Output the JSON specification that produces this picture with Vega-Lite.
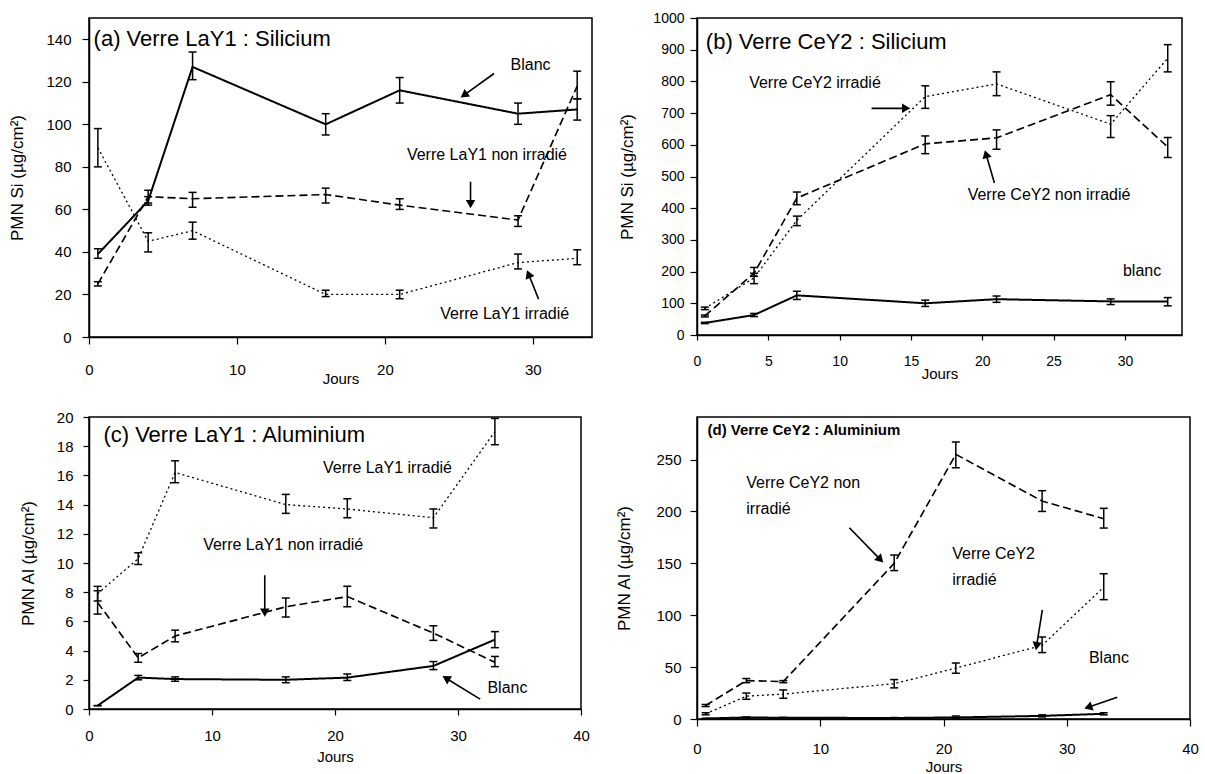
{
  "$schema": "https://vega.github.io/schema/vega-lite/v6.json",
  "background": "white",
  "padding": {"left": 7, "top": 10, "right": 2, "bottom": 2},
  "config": {
    "font": "Liberation Sans",
    "view": {"stroke": "black", "strokeWidth": 1.5},
    "axis": {"grid": false, "domainColor": "black", "domainWidth": 1.5, "tickColor": "black", "tickWidth": 1.2, "labelColor": "black", "titleColor": "black", "labelFont": "Liberation Sans", "titleFont": "Liberation Sans", "titleFontWeight": "normal", "labelFontSize": 15, "titleFontSize": 15, "labelFlush": false, "labelOverlap": false}
  },
  "datasets": {
    "a": [
      {"s": "Blanc", "x": 0.6, "y": 39, "lo": 37, "hi": 41.5},
      {"s": "Blanc", "x": 4, "y": 64, "lo": 62, "hi": 66},
      {"s": "Blanc", "x": 7, "y": 127, "lo": 121, "hi": 134},
      {"s": "Blanc", "x": 16, "y": 100, "lo": 95, "hi": 105},
      {"s": "Blanc", "x": 21, "y": 116, "lo": 110, "hi": 122},
      {"s": "Blanc", "x": 29, "y": 105, "lo": 100, "hi": 110},
      {"s": "Blanc", "x": 33, "y": 107, "lo": 102, "hi": 112},
      {"s": "Non irradié", "x": 0.6, "y": 25, "lo": 24, "hi": 26},
      {"s": "Non irradié", "x": 4, "y": 66, "lo": 63, "hi": 69},
      {"s": "Non irradié", "x": 7, "y": 65, "lo": 61, "hi": 68},
      {"s": "Non irradié", "x": 16, "y": 67, "lo": 63, "hi": 70},
      {"s": "Non irradié", "x": 21, "y": 62, "lo": 60, "hi": 65},
      {"s": "Non irradié", "x": 29, "y": 55, "lo": 52, "hi": 57},
      {"s": "Non irradié", "x": 33, "y": 118, "lo": 112, "hi": 125},
      {"s": "Irradié", "x": 0.6, "y": 89, "lo": 80, "hi": 98},
      {"s": "Irradié", "x": 4, "y": 45, "lo": 40, "hi": 49},
      {"s": "Irradié", "x": 7, "y": 50, "lo": 46, "hi": 54},
      {"s": "Irradié", "x": 16, "y": 20, "lo": 19, "hi": 22},
      {"s": "Irradié", "x": 21, "y": 20, "lo": 18, "hi": 22},
      {"s": "Irradié", "x": 29, "y": 35, "lo": 32, "hi": 39},
      {"s": "Irradié", "x": 33, "y": 37, "lo": 34, "hi": 41}
    ],
    "b": [
      {"s": "Blanc", "x": 0.55, "y": 38, "lo": 36, "hi": 40},
      {"s": "Blanc", "x": 4, "y": 63, "lo": 58, "hi": 68},
      {"s": "Blanc", "x": 7, "y": 125, "lo": 112, "hi": 138},
      {"s": "Blanc", "x": 16, "y": 100, "lo": 90, "hi": 110},
      {"s": "Blanc", "x": 21, "y": 113, "lo": 103, "hi": 123},
      {"s": "Blanc", "x": 29, "y": 106, "lo": 96, "hi": 114},
      {"s": "Blanc", "x": 33, "y": 106, "lo": 92, "hi": 118},
      {"s": "Non irradié", "x": 0.55, "y": 60, "lo": 57, "hi": 63},
      {"s": "Non irradié", "x": 4, "y": 195, "lo": 185, "hi": 213},
      {"s": "Non irradié", "x": 7, "y": 432, "lo": 411, "hi": 451},
      {"s": "Non irradié", "x": 16, "y": 603, "lo": 572, "hi": 628},
      {"s": "Non irradié", "x": 21, "y": 622, "lo": 586, "hi": 647},
      {"s": "Non irradié", "x": 29, "y": 758, "lo": 725, "hi": 799},
      {"s": "Non irradié", "x": 33, "y": 593, "lo": 560, "hi": 623},
      {"s": "Irradié", "x": 0.55, "y": 84, "lo": 80, "hi": 88},
      {"s": "Irradié", "x": 4, "y": 180, "lo": 162, "hi": 195},
      {"s": "Irradié", "x": 7, "y": 362, "lo": 345, "hi": 375},
      {"s": "Irradié", "x": 16, "y": 752, "lo": 715, "hi": 786},
      {"s": "Irradié", "x": 21, "y": 792, "lo": 755, "hi": 830},
      {"s": "Irradié", "x": 29, "y": 665, "lo": 623, "hi": 692},
      {"s": "Irradié", "x": 33, "y": 873, "lo": 830, "hi": 916}
    ],
    "c": [
      {"s": "Blanc", "x": 0.7, "y": 0.23, "lo": 0.23, "hi": 0.23},
      {"s": "Blanc", "x": 4, "y": 2.15, "lo": 2.0, "hi": 2.3},
      {"s": "Blanc", "x": 7, "y": 2.05, "lo": 1.9, "hi": 2.2},
      {"s": "Blanc", "x": 16, "y": 2.0, "lo": 1.8, "hi": 2.2},
      {"s": "Blanc", "x": 21, "y": 2.15, "lo": 1.95, "hi": 2.4},
      {"s": "Blanc", "x": 28, "y": 2.95, "lo": 2.7, "hi": 3.25},
      {"s": "Blanc", "x": 33, "y": 4.75, "lo": 4.2, "hi": 5.3},
      {"s": "Non irradié", "x": 0.7, "y": 7.3, "lo": 6.5, "hi": 8.1},
      {"s": "Non irradié", "x": 4, "y": 3.5, "lo": 3.2, "hi": 3.8},
      {"s": "Non irradié", "x": 7, "y": 5.0, "lo": 4.6, "hi": 5.4},
      {"s": "Non irradié", "x": 16, "y": 7.0, "lo": 6.3, "hi": 7.6},
      {"s": "Non irradié", "x": 21, "y": 7.7, "lo": 7.0, "hi": 8.4},
      {"s": "Non irradié", "x": 28, "y": 5.2, "lo": 4.7, "hi": 5.7},
      {"s": "Non irradié", "x": 33, "y": 3.2, "lo": 2.9, "hi": 3.6},
      {"s": "Irradié", "x": 0.7, "y": 7.9, "lo": 7.4, "hi": 8.4},
      {"s": "Irradié", "x": 4, "y": 10.3, "lo": 9.9, "hi": 10.7},
      {"s": "Irradié", "x": 7, "y": 16.2, "lo": 15.5, "hi": 17.0},
      {"s": "Irradié", "x": 16, "y": 14.0, "lo": 13.4, "hi": 14.7},
      {"s": "Irradié", "x": 21, "y": 13.7, "lo": 13.1, "hi": 14.4},
      {"s": "Irradié", "x": 28, "y": 13.1, "lo": 12.4, "hi": 13.7},
      {"s": "Irradié", "x": 33, "y": 19.0, "lo": 18.1, "hi": 19.9}
    ],
    "d": [
      {"s": "Blanc", "x": 0.7, "y": 0.5, "lo": 0.3, "hi": 0.7},
      {"s": "Blanc", "x": 4, "y": 1.5, "lo": 1, "hi": 2},
      {"s": "Blanc", "x": 7, "y": 1.2, "lo": 0.8, "hi": 1.6},
      {"s": "Blanc", "x": 16, "y": 1, "lo": 0.6, "hi": 1.4},
      {"s": "Blanc", "x": 21, "y": 1.5, "lo": 0.5, "hi": 3},
      {"s": "Blanc", "x": 28, "y": 3, "lo": 2, "hi": 4},
      {"s": "Blanc", "x": 33, "y": 5, "lo": 4, "hi": 6},
      {"s": "Non irradié", "x": 0.7, "y": 13, "lo": 12, "hi": 14},
      {"s": "Non irradié", "x": 4, "y": 37, "lo": 35, "hi": 39},
      {"s": "Non irradié", "x": 7, "y": 36, "lo": 35, "hi": 37},
      {"s": "Non irradié", "x": 16, "y": 150, "lo": 143, "hi": 158},
      {"s": "Non irradié", "x": 21, "y": 255, "lo": 242, "hi": 267},
      {"s": "Non irradié", "x": 28, "y": 210, "lo": 200, "hi": 220},
      {"s": "Non irradié", "x": 33, "y": 193, "lo": 184, "hi": 203},
      {"s": "Irradié", "x": 0.7, "y": 5, "lo": 4, "hi": 6},
      {"s": "Irradié", "x": 4, "y": 22, "lo": 19, "hi": 25},
      {"s": "Irradié", "x": 7, "y": 24, "lo": 20, "hi": 28},
      {"s": "Irradié", "x": 16, "y": 34, "lo": 30, "hi": 38},
      {"s": "Irradié", "x": 21, "y": 49, "lo": 44, "hi": 54},
      {"s": "Irradié", "x": 28, "y": 71, "lo": 64, "hi": 79},
      {"s": "Irradié", "x": 33, "y": 127, "lo": 115, "hi": 140}
    ],
    "aT": [
      {"kind": "title", "x": 0.31, "y": 140, "label": "(a) Verre LaY1 : Silicium"},
      {"kind": "note", "x": 29.85, "y": 127.7, "label": "Blanc"},
      {"kind": "note", "x": 26.9, "y": 85.6, "label": "Verre LaY1 non irradié"},
      {"kind": "note", "x": 28.1, "y": 10.7, "label": "Verre LaY1 irradié"}
    ],
    "bT": [
      {"kind": "title", "x": 0.62, "y": 924.6, "label": "(b) Verre CeY2 : Silicium"},
      {"kind": "note", "x": 8.27, "y": 793.7, "label": "Verre CeY2 irradié"},
      {"kind": "note", "x": 24.68, "y": 443, "label": "Verre CeY2 non irradié"},
      {"kind": "note", "x": 31.2, "y": 202, "label": "blanc"}
    ],
    "cT": [
      {"kind": "title", "x": 1.17, "y": 18.75, "label": "(c) Verre LaY1 : Aluminium"},
      {"kind": "note", "x": 24.27, "y": 16.52, "label": "Verre LaY1 irradié"},
      {"kind": "note", "x": 15.79, "y": 11.2, "label": "Verre LaY1 non irradié"},
      {"kind": "note", "x": 34.02, "y": 1.41, "label": "Blanc"}
    ],
    "dT": [
      {"kind": "title", "x": 0.85, "y": 278.1, "label": "(d) Verre CeY2 : Aluminium"},
      {"kind": "note", "x": 4.0, "y": 227.4, "label": "Verre CeY2 non"},
      {"kind": "note", "x": 4.0, "y": 202.1, "label": "irradié"},
      {"kind": "note", "x": 20.71, "y": 159.4, "label": "Verre CeY2"},
      {"kind": "note", "x": 20.71, "y": 134.2, "label": "irradié"},
      {"kind": "note", "x": 31.8, "y": 58.9, "label": "Blanc"}
    ],
    "aA": [
      {"x1": 27.38, "y1": 123.9, "x2": 25.35, "y2": 113.7, "angle": 234},
      {"x1": 25.79, "y1": 73.0, "x2": 25.79, "y2": 62.5, "angle": 180},
      {"x1": 30.39, "y1": 17.8, "x2": 29.71, "y2": 29.6, "angle": 338}
    ],
    "bA": [
      {"x1": 12.24, "y1": 715, "x2": 14.66, "y2": 715, "angle": 90},
      {"x1": 20.85, "y1": 479.6, "x2": 20.26, "y2": 570.7, "angle": 344}
    ],
    "cA": [
      {"x1": 14.29, "y1": 9.16, "x2": 14.29, "y2": 6.6, "angle": 180},
      {"x1": 31.8, "y1": 0.68, "x2": 29.03, "y2": 2.11, "angle": 301}
    ],
    "dA": [
      {"x1": 12.36, "y1": 184.3, "x2": 14.88, "y2": 153.6, "angle": 136},
      {"x1": 28.02, "y1": 105.1, "x2": 27.55, "y2": 70.2, "angle": 189},
      {"x1": 34.1, "y1": 21.0, "x2": 31.74, "y2": 11.3, "angle": 251}
    ]
  },
  "columns": 2,
  "bounds": "flush",
  "spacing": {"row": 80, "column": 105},
  "concat": [
    {
      "width": 503, "height": 319,
      "layer": [
        {"data": {"name": "a"}, "mark": {"type": "line", "color": "black"},
         "encoding": {
           "x": {"field": "x", "type": "quantitative", "scale": {"domain": [0, 34], "nice": false, "zero": false},
                 "axis": {"values": [0, 10, 20, 30], "tickCount": 20, "title": "Jours", "tickSize": 7, "labelPadding": 18, "titleY": 41, "titleBaseline": "middle", "labelOverlap": false, "format": "d"}},
           "y": {"field": "y", "type": "quantitative", "scale": {"domain": [0, 150], "nice": false},
                 "axis": {"values": [0, 20, 40, 60, 80, 100, 120, 140], "tickCount": 20, "title": "PMN Si (µg/cm²)", "tickSize": 7, "labelPadding": 11, "titleX": -72, "titleBaseline": "middle", "titleFontSize": 17, "labelOverlap": false, "format": "d"}},
           "strokeDash": {"field": "s", "type": "nominal", "scale": {"domain": ["Blanc", "Non irradié", "Irradié"], "range": [[1, 0], [8, 4], [2, 3]]}, "legend": null},
           "strokeWidth": {"field": "s", "type": "ordinal", "scale": {"domain": ["Blanc", "Non irradié", "Irradié"], "range": [2, 1.3, 1.5]}, "legend": null}
         }},
        {"data": {"name": "a"}, "mark": {"type": "rule", "color": "black", "strokeWidth": 1.5},
         "encoding": {"x": {"field": "x", "type": "quantitative"}, "y": {"field": "lo", "type": "quantitative"}, "y2": {"field": "hi"}}},
        {"data": {"name": "a"}, "mark": {"type": "tick", "orient": "horizontal", "color": "black", "size": 8, "thickness": 1.5, "opacity": 1},
         "encoding": {"x": {"field": "x", "type": "quantitative"}, "y": {"field": "lo", "type": "quantitative"}}},
        {"data": {"name": "a"}, "mark": {"type": "tick", "orient": "horizontal", "color": "black", "size": 8, "thickness": 1.5, "opacity": 1},
         "encoding": {"x": {"field": "x", "type": "quantitative"}, "y": {"field": "hi", "type": "quantitative"}}},
        {"data": {"name": "aT"}, "transform": [{"filter": "datum.kind == 'note'"}], "mark": {"type": "text", "align": "center", "baseline": "middle", "fontSize": 16, "color": "black"},
         "encoding": {"x": {"field": "x", "type": "quantitative"}, "y": {"field": "y", "type": "quantitative"}, "text": {"field": "label"}}},
        {"data": {"name": "aT"}, "transform": [{"filter": "datum.kind == 'title'"}], "mark": {"type": "text", "align": "left", "baseline": "middle", "fontSize": 22, "color": "black"},
         "encoding": {"x": {"field": "x", "type": "quantitative"}, "y": {"field": "y", "type": "quantitative"}, "text": {"field": "label"}}},
        {"data": {"name": "aA"}, "mark": {"type": "rule", "color": "black", "strokeWidth": 1.6},
         "encoding": {"x": {"field": "x1", "type": "quantitative"}, "y": {"field": "y1", "type": "quantitative"}, "x2": {"field": "x2"}, "y2": {"field": "y2"}}},
        {"data": {"name": "aA"}, "mark": {"type": "point", "shape": "triangle-up", "filled": true, "color": "black", "size": 90, "opacity": 1},
         "encoding": {"x": {"field": "x2", "type": "quantitative"}, "y": {"field": "y2", "type": "quantitative"}, "angle": {"field": "angle", "type": "quantitative", "scale": null}}}
      ]
    },
    {
      "width": 485, "height": 317,
      "layer": [
        {"data": {"name": "b"}, "mark": {"type": "line", "color": "black"},
         "encoding": {
           "x": {"field": "x", "type": "quantitative", "scale": {"domain": [0, 34], "nice": false, "zero": false},
                 "axis": {"values": [0, 5, 10, 15, 20, 25, 30], "tickCount": 20, "title": "Jours", "tickSize": 5, "labelPadding": 14, "titleY": 38, "titleBaseline": "middle", "labelFontSize": 14, "labelOverlap": false, "format": "d"}},
           "y": {"field": "y", "type": "quantitative", "scale": {"domain": [0, 1000], "nice": false},
                 "axis": {"values": [0, 100, 200, 300, 400, 500, 600, 700, 800, 900, 1000], "tickCount": 20, "title": "PMN Si (µg/cm²)", "tickSize": 7, "labelPadding": 6, "titleX": -70, "titleBaseline": "middle", "titleFontSize": 17, "labelFontSize": 14, "labelOverlap": false, "format": "d"}},
           "strokeDash": {"field": "s", "type": "nominal", "scale": {"domain": ["Blanc", "Non irradié", "Irradié"], "range": [[1, 0], [8, 4], [2, 3]]}, "legend": null},
           "strokeWidth": {"field": "s", "type": "ordinal", "scale": {"domain": ["Blanc", "Non irradié", "Irradié"], "range": [2, 1.3, 1.5]}, "legend": null}
         }},
        {"data": {"name": "b"}, "mark": {"type": "rule", "color": "black", "strokeWidth": 1.5},
         "encoding": {"x": {"field": "x", "type": "quantitative"}, "y": {"field": "lo", "type": "quantitative"}, "y2": {"field": "hi"}}},
        {"data": {"name": "b"}, "mark": {"type": "tick", "orient": "horizontal", "color": "black", "size": 8, "thickness": 1.5, "opacity": 1},
         "encoding": {"x": {"field": "x", "type": "quantitative"}, "y": {"field": "lo", "type": "quantitative"}}},
        {"data": {"name": "b"}, "mark": {"type": "tick", "orient": "horizontal", "color": "black", "size": 8, "thickness": 1.5, "opacity": 1},
         "encoding": {"x": {"field": "x", "type": "quantitative"}, "y": {"field": "hi", "type": "quantitative"}}},
        {"data": {"name": "bT"}, "transform": [{"filter": "datum.kind == 'note'"}], "mark": {"type": "text", "align": "center", "baseline": "middle", "fontSize": 16, "color": "black"},
         "encoding": {"x": {"field": "x", "type": "quantitative"}, "y": {"field": "y", "type": "quantitative"}, "text": {"field": "label"}}},
        {"data": {"name": "bT"}, "transform": [{"filter": "datum.kind == 'title'"}], "mark": {"type": "text", "align": "left", "baseline": "middle", "fontSize": 22, "color": "black"},
         "encoding": {"x": {"field": "x", "type": "quantitative"}, "y": {"field": "y", "type": "quantitative"}, "text": {"field": "label"}}},
        {"data": {"name": "bA"}, "mark": {"type": "rule", "color": "black", "strokeWidth": 1.6},
         "encoding": {"x": {"field": "x1", "type": "quantitative"}, "y": {"field": "y1", "type": "quantitative"}, "x2": {"field": "x2"}, "y2": {"field": "y2"}}},
        {"data": {"name": "bA"}, "mark": {"type": "point", "shape": "triangle-up", "filled": true, "color": "black", "size": 90, "opacity": 1},
         "encoding": {"x": {"field": "x2", "type": "quantitative"}, "y": {"field": "y2", "type": "quantitative"}, "angle": {"field": "angle", "type": "quantitative", "scale": null}}}
      ]
    },
    {
      "width": 492, "height": 292,
      "layer": [
        {"data": {"name": "c"}, "mark": {"type": "line", "color": "black"},
         "encoding": {
           "x": {"field": "x", "type": "quantitative", "scale": {"domain": [0, 40], "nice": false, "zero": false},
                 "axis": {"values": [0, 10, 20, 30, 40], "tickCount": 20, "title": "Jours", "tickSize": 6, "labelPadding": 13, "titleY": 47, "titleBaseline": "middle", "labelOverlap": false, "format": "d"}},
           "y": {"field": "y", "type": "quantitative", "scale": {"domain": [0, 20], "nice": false},
                 "axis": {"values": [0, 2, 4, 6, 8, 10, 12, 14, 16, 18, 20], "tickCount": 20, "title": "PMN Al (µg/cm²)", "tickSize": 6, "labelPadding": 10, "titleX": -61, "titleBaseline": "middle", "titleFontSize": 17, "labelOverlap": false, "format": "d"}},
           "strokeDash": {"field": "s", "type": "nominal", "scale": {"domain": ["Blanc", "Non irradié", "Irradié"], "range": [[1, 0], [8, 4], [2, 3]]}, "legend": null},
           "strokeWidth": {"field": "s", "type": "ordinal", "scale": {"domain": ["Blanc", "Non irradié", "Irradié"], "range": [2, 1.3, 1.5]}, "legend": null}
         }},
        {"data": {"name": "c"}, "mark": {"type": "rule", "color": "black", "strokeWidth": 1.5},
         "encoding": {"x": {"field": "x", "type": "quantitative"}, "y": {"field": "lo", "type": "quantitative"}, "y2": {"field": "hi"}}},
        {"data": {"name": "c"}, "mark": {"type": "tick", "orient": "horizontal", "color": "black", "size": 8, "thickness": 1.5, "opacity": 1},
         "encoding": {"x": {"field": "x", "type": "quantitative"}, "y": {"field": "lo", "type": "quantitative"}}},
        {"data": {"name": "c"}, "mark": {"type": "tick", "orient": "horizontal", "color": "black", "size": 8, "thickness": 1.5, "opacity": 1},
         "encoding": {"x": {"field": "x", "type": "quantitative"}, "y": {"field": "hi", "type": "quantitative"}}},
        {"data": {"name": "cT"}, "transform": [{"filter": "datum.kind == 'note'"}], "mark": {"type": "text", "align": "center", "baseline": "middle", "fontSize": 16, "color": "black"},
         "encoding": {"x": {"field": "x", "type": "quantitative"}, "y": {"field": "y", "type": "quantitative"}, "text": {"field": "label"}}},
        {"data": {"name": "cT"}, "transform": [{"filter": "datum.kind == 'title'"}], "mark": {"type": "text", "align": "left", "baseline": "middle", "fontSize": 22, "color": "black"},
         "encoding": {"x": {"field": "x", "type": "quantitative"}, "y": {"field": "y", "type": "quantitative"}, "text": {"field": "label"}}},
        {"data": {"name": "cA"}, "mark": {"type": "rule", "color": "black", "strokeWidth": 1.6},
         "encoding": {"x": {"field": "x1", "type": "quantitative"}, "y": {"field": "y1", "type": "quantitative"}, "x2": {"field": "x2"}, "y2": {"field": "y2"}}},
        {"data": {"name": "cA"}, "mark": {"type": "point", "shape": "triangle-up", "filled": true, "color": "black", "size": 90, "opacity": 1},
         "encoding": {"x": {"field": "x2", "type": "quantitative"}, "y": {"field": "y2", "type": "quantitative"}, "angle": {"field": "angle", "type": "quantitative", "scale": null}}}
      ]
    },
    {
      "width": 493, "height": 302,
      "layer": [
        {"data": {"name": "d"}, "mark": {"type": "line", "color": "black"},
         "encoding": {
           "x": {"field": "x", "type": "quantitative", "scale": {"domain": [0, 40], "nice": false, "zero": false},
                 "axis": {"values": [0, 10, 20, 30, 40], "tickCount": 20, "title": "Jours", "tickSize": 7, "labelPadding": 15, "titleY": 47, "titleBaseline": "middle", "labelOverlap": false, "format": "d"}},
           "y": {"field": "y", "type": "quantitative", "scale": {"domain": [0, 291], "nice": false},
                 "axis": {"values": [0, 50, 100, 150, 200, 250], "tickCount": 20, "title": "PMN Al (µg/cm²)", "tickSize": 7, "labelPadding": 9, "titleX": -73, "titleBaseline": "middle", "titleFontSize": 17, "labelOverlap": false, "format": "d"}},
           "strokeDash": {"field": "s", "type": "nominal", "scale": {"domain": ["Blanc", "Non irradié", "Irradié"], "range": [[1, 0], [8, 4], [2, 3]]}, "legend": null},
           "strokeWidth": {"field": "s", "type": "ordinal", "scale": {"domain": ["Blanc", "Non irradié", "Irradié"], "range": [2, 1.3, 1.5]}, "legend": null}
         }},
        {"data": {"name": "d"}, "mark": {"type": "rule", "color": "black", "strokeWidth": 1.5},
         "encoding": {"x": {"field": "x", "type": "quantitative"}, "y": {"field": "lo", "type": "quantitative"}, "y2": {"field": "hi"}}},
        {"data": {"name": "d"}, "mark": {"type": "tick", "orient": "horizontal", "color": "black", "size": 8, "thickness": 1.5, "opacity": 1},
         "encoding": {"x": {"field": "x", "type": "quantitative"}, "y": {"field": "lo", "type": "quantitative"}}},
        {"data": {"name": "d"}, "mark": {"type": "tick", "orient": "horizontal", "color": "black", "size": 8, "thickness": 1.5, "opacity": 1},
         "encoding": {"x": {"field": "x", "type": "quantitative"}, "y": {"field": "hi", "type": "quantitative"}}},
        {"data": {"name": "dT"}, "transform": [{"filter": "datum.kind == 'note'"}], "mark": {"type": "text", "align": "left", "baseline": "middle", "fontSize": 16, "color": "black"},
         "encoding": {"x": {"field": "x", "type": "quantitative"}, "y": {"field": "y", "type": "quantitative"}, "text": {"field": "label"}}},
        {"data": {"name": "dT"}, "transform": [{"filter": "datum.kind == 'title'"}], "mark": {"type": "text", "align": "left", "baseline": "middle", "fontSize": 15, "fontWeight": "bold", "color": "black"},
         "encoding": {"x": {"field": "x", "type": "quantitative"}, "y": {"field": "y", "type": "quantitative"}, "text": {"field": "label"}}},
        {"data": {"name": "dA"}, "mark": {"type": "rule", "color": "black", "strokeWidth": 1.6},
         "encoding": {"x": {"field": "x1", "type": "quantitative"}, "y": {"field": "y1", "type": "quantitative"}, "x2": {"field": "x2"}, "y2": {"field": "y2"}}},
        {"data": {"name": "dA"}, "mark": {"type": "point", "shape": "triangle-up", "filled": true, "color": "black", "size": 90, "opacity": 1},
         "encoding": {"x": {"field": "x2", "type": "quantitative"}, "y": {"field": "y2", "type": "quantitative"}, "angle": {"field": "angle", "type": "quantitative", "scale": null}}}
      ]
    }
  ]
}
